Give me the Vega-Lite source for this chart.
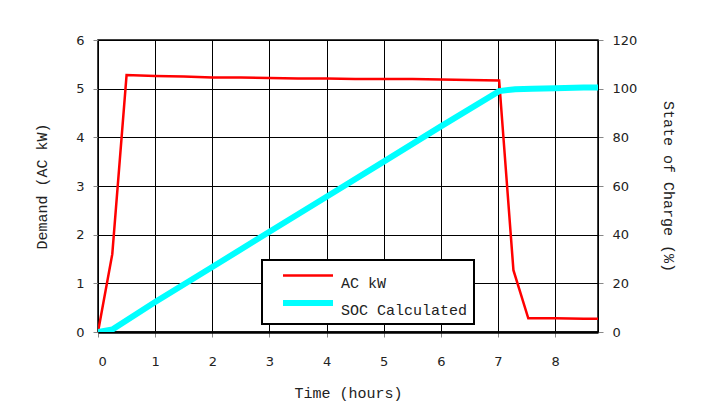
{
  "$schema": "https://vega.github.io/schema/vega-lite/v6.json",
  "width": 500,
  "height": 292,
  "autosize": {"type": "none"},
  "padding": {"left": 98, "top": 40, "right": 105, "bottom": 87},
  "background": "white",
  "data": {
    "values": [
      {"t": 0, "v": 0, "series": "AC kW"},
      {"t": 0.25, "v": 1.6, "series": "AC kW"},
      {"t": 0.5, "v": 5.28, "series": "AC kW"},
      {"t": 1, "v": 5.26, "series": "AC kW"},
      {"t": 1.5, "v": 5.25, "series": "AC kW"},
      {"t": 2, "v": 5.23, "series": "AC kW"},
      {"t": 2.5, "v": 5.23, "series": "AC kW"},
      {"t": 3, "v": 5.22, "series": "AC kW"},
      {"t": 3.5, "v": 5.21, "series": "AC kW"},
      {"t": 4, "v": 5.21, "series": "AC kW"},
      {"t": 4.5, "v": 5.2, "series": "AC kW"},
      {"t": 5, "v": 5.2, "series": "AC kW"},
      {"t": 5.5, "v": 5.2, "series": "AC kW"},
      {"t": 6, "v": 5.19, "series": "AC kW"},
      {"t": 6.5, "v": 5.18, "series": "AC kW"},
      {"t": 7.02, "v": 5.17, "series": "AC kW"},
      {"t": 7.27, "v": 1.27, "series": "AC kW"},
      {"t": 7.53, "v": 0.28, "series": "AC kW"},
      {"t": 8, "v": 0.28, "series": "AC kW"},
      {"t": 8.5, "v": 0.27, "series": "AC kW"},
      {"t": 8.75, "v": 0.27, "series": "AC kW"},
      {"t": 0, "v": 0, "series": "SOC Calculated"},
      {"t": 0.25, "v": 1, "series": "SOC Calculated"},
      {"t": 1, "v": 12.3, "series": "SOC Calculated"},
      {"t": 2, "v": 26.7, "series": "SOC Calculated"},
      {"t": 3, "v": 41.2, "series": "SOC Calculated"},
      {"t": 4, "v": 55.6, "series": "SOC Calculated"},
      {"t": 5, "v": 70, "series": "SOC Calculated"},
      {"t": 6, "v": 84.5, "series": "SOC Calculated"},
      {"t": 7.02, "v": 99, "series": "SOC Calculated"},
      {"t": 7.3, "v": 99.8, "series": "SOC Calculated"},
      {"t": 7.6, "v": 100, "series": "SOC Calculated"},
      {"t": 8, "v": 100.2, "series": "SOC Calculated"},
      {"t": 8.5, "v": 100.5, "series": "SOC Calculated"},
      {"t": 8.75, "v": 100.5, "series": "SOC Calculated"}
    ]
  },
  "encoding": {
    "x": {
      "field": "t",
      "type": "quantitative",
      "scale": {"domain": [0, 8.75], "nice": false},
      "axis": {
        "values": [0, 1, 2, 3, 4, 5, 6, 7, 8],
        "title": "Time (hours)",
        "grid": true,
        "domainColor": "black",
        "domainWidth": 2.5,
        "labelPadding": 18,
        "titlePadding": 17
      }
    },
    "color": {
      "field": "series",
      "type": "nominal",
      "scale": {"domain": ["AC kW", "SOC Calculated"], "range": ["#ff0000", "#00ffff"]},
      "legend": {"title": null}
    },
    "strokeWidth": {
      "field": "series",
      "type": "nominal",
      "scale": {"domain": ["AC kW", "SOC Calculated"], "range": [2.5, 6]},
      "legend": {"title": null}
    }
  },
  "layer": [
    {
      "transform": [{"filter": "datum.series === 'AC kW'"}],
      "mark": {"type": "line", "clip": true},
      "encoding": {
        "y": {
          "field": "v",
          "type": "quantitative",
          "scale": {"domain": [0, 6], "nice": false},
          "axis": {
            "values": [0, 1, 2, 3, 4, 5, 6],
            "title": "Demand (AC kW)",
            "grid": true,
            "domainColor": "black",
            "titlePadding": 26
          }
        }
      }
    },
    {
      "transform": [{"filter": "datum.series === 'SOC Calculated'"}],
      "mark": {"type": "line", "clip": true},
      "encoding": {
        "y": {
          "field": "v",
          "type": "quantitative",
          "scale": {"domain": [0, 120], "nice": false},
          "axis": {
            "orient": "right",
            "values": [0, 20, 40, 60, 80, 100, 120],
            "title": "State of Charge (%)",
            "grid": false,
            "domainColor": "black",
            "titlePadding": 24
          }
        }
      }
    }
  ],
  "resolve": {"scale": {"y": "independent"}},
  "config": {
    "view": {"stroke": "black", "strokeWidth": 1.5},
    "axis": {
      "gridColor": "black",
      "gridOpacity": 1,
      "gridWidth": 1,
      "tickColor": "#888888",
      "tickSize": 5,
      "labelFont": "DejaVu Sans",
      "labelFontSize": 13,
      "labelColor": "#222222",
      "labelPadding": 9,
      "titleFont": "Liberation Mono",
      "titleFontSize": 15,
      "titleFontWeight": "normal",
      "titleColor": "#222222"
    },
    "legend": {
      "orient": "none",
      "legendX": 164,
      "legendY": 220,
      "fillColor": "white",
      "strokeColor": "black",
      "strokeWidth": 2,
      "padding": 6,
      "symbolType": "M-1,0H5.25",
      "symbolSize": 256,
      "symbolOffset": 12,
      "labelFont": "Liberation Mono",
      "labelFontSize": 15,
      "labelColor": "#222222",
      "labelBaseline": "top",
      "labelOffset": 39,
      "rowPadding": 0,
      "labelLimit": 300
    }
  }
}
